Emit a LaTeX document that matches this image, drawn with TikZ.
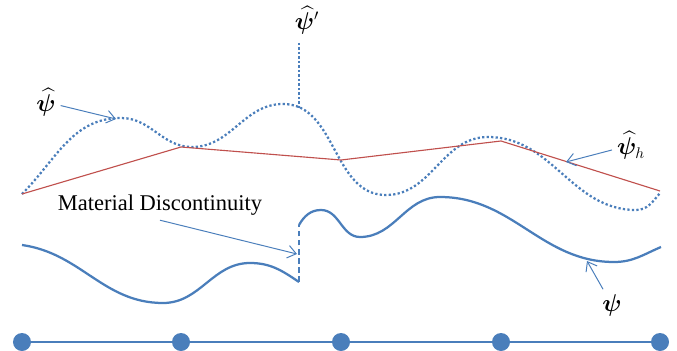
\documentclass[tikz,border=0pt]{standalone}
\usepackage{amsmath,amssymb,bm}
\usepackage{fontspec}
\setmainfont{Liberation Serif}
\usetikzlibrary{arrows.meta}

\definecolor{curveblue}{RGB}{74,126,187}
\definecolor{meshred}{RGB}{192,80,77}

\begin{document}
\begin{tikzpicture}[x=0.025cm, y=0.025cm, >={Straight Barb[length=6pt,width=9pt]},
  every node/.style={font=\fontsize{16}{19}\selectfont},
  exactcurve/.style={draw=curveblue, line width=1.6pt},
  finecurve/.style={draw=curveblue, line width=1.6pt, dash pattern=on 1.6pt off 1.6pt},
  interpline/.style={draw=meshred, line width=0.8pt},
  pointer/.style={->, draw=curveblue, line width=0.7pt},
  meshdot/.style={circle, fill=curveblue, inner sep=0pt, minimum size=0.45cm}]
  \useasboundingbox (0,0) rectangle (677,350);

  % Mesh
  \node[meshdot] (n1) at (22,8) {};
  \node[meshdot] (n2) at (181,8) {};
  \node[meshdot] (n3) at (341,8) {};
  \node[meshdot] (n4) at (501,8) {};
  \node[meshdot] (n5) at (660,8) {};
  \draw[curveblue, line width=1.8pt] (n1) -- (n2) -- (n3) -- (n4) -- (n5);

  % Approximation (dotted)
  \draw[finecurve] (22,156) to[out=45,in=180] (121,232) to[out=0,in=180] (192,203)
    to[out=0,in=180] (283,246) to[out=0,in=180] (386,155) to[out=0,in=180] (488,213)
    to[out=0,in=180] (636,140) to[out=0,in=230] (660,157);

  % Interpolant
  \draw[interpline] (22,156) -- (181,203) -- (341,190) -- (501,209) -- (660,159);

  % Exact solution with jump
  \draw[exactcurve] (22,105) to[out=-8,in=180] (163,47) to[out=0,in=180] (250,87)
    to[out=0,in=146] (299,68);
  \draw[exactcurve, dash pattern=on 4pt off 2.5pt] (299,68) -- (299,125);
  \draw[exactcurve] (299,125) to[out=60,in=180] (321,140) to[out=0,in=180] (360,113)
    to[out=0,in=180] (440,153) to[out=0,in=180] (614,88) to[out=0,in=203] (661,103);

  % Labels
  \node (psihat) at (46,248) {$\widehat{\bm{\psi}}$};
  \coordinate (psihatTip) at (116,231);
  \draw[pointer] (psihat) -- (psihatTip);

  \node (psiprime) at (307,330) {$\widehat{\bm{\psi}}'$};
  \coordinate (primeFoot) at (299,240);
  \draw[finecurve] (primeFoot |- 0,307) -- (primeFoot);

  \node (psihath) at (631,205) {$\widehat{\bm{\psi}}_h$};
  \coordinate (psihTip) at (566,188);
  \draw[pointer] (psihath) -- (psihTip);

  \node (matlabel) at (160,145) {Material Discontinuity};
  \coordinate (jump) at (297,96);
  \draw[pointer] (matlabel.south) -- (jump);

  \node (psi) at (612,45) {$\bm{\psi}$};
  \coordinate (psiTip) at (587,89);
  \draw[pointer] (psi) -- (psiTip);
\end{tikzpicture}
\end{document}
